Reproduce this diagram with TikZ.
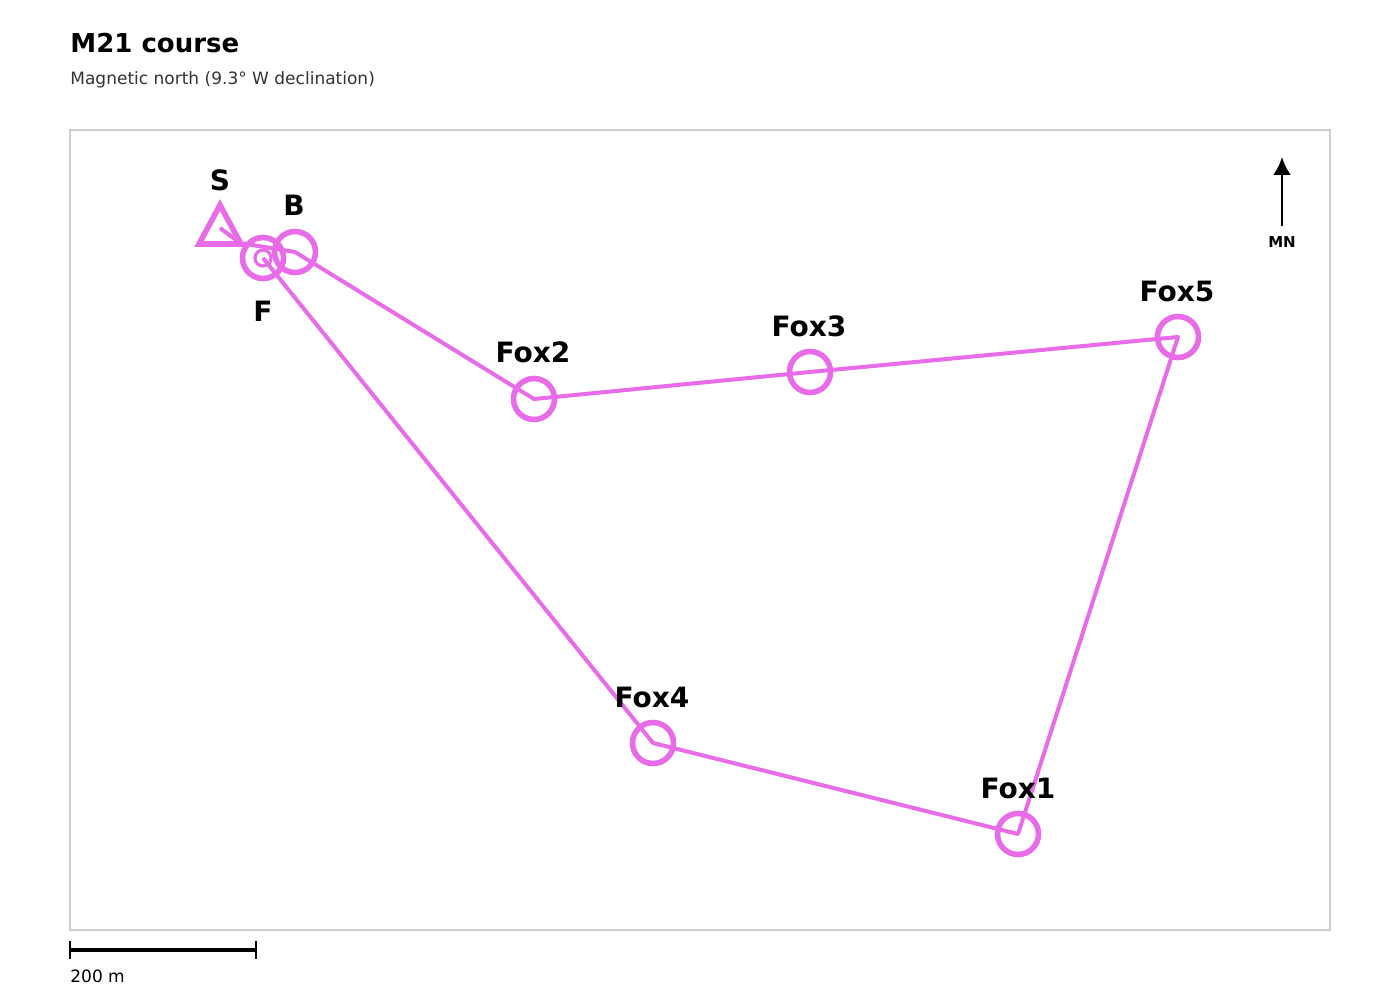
\documentclass[tikz,border=0pt]{standalone}
\usepackage{fontspec}
\setmainfont{DejaVu Sans}
\usetikzlibrary{arrows.meta}
\definecolor{course}{HTML}{E86BE8}
\definecolor{frame}{HTML}{CCCCCC}
\definecolor{subtext}{HTML}{333333}
\tikzset{
  control/.style={circle, draw=course, line width=2.8pt, minimum size=20.5pt, inner sep=0pt},
  leg/.style={draw=course, line width=2pt, line join=round},
  lbl/.style={font=\bfseries\fontsize{14}{17}\selectfont}
}
\begin{document}
\begin{tikzpicture}[x=0.5pt,y=-0.5pt]
\useasboundingbox (0,0) rectangle (1400,1000);
% header
\node[anchor=base west, inner sep=0pt, font=\bfseries\fontsize{13}{16}\selectfont] (title) at (70,53) {M21 course};
\node[anchor=base west, inner sep=0pt, text=subtext, font=\fontsize{8.5}{10}\selectfont] (sub) at (70,85) {Magnetic north (9.3° W declination)};
% map frame
\draw[frame, line width=1pt] (70,130) rectangle (1330,930);
% controls
\node[control] (F) at (263,258) {};
\node[control] (B) at (295,252) {};
\node[control] (fox2) at (534,399) {};
\node[control] (fox3) at (810,372) {};
\node[control] (fox5) at (1178,337) {};
\node[control] (fox1) at (1018,834) {};
\node[control] (fox4) at (653,743) {};
\node[circle, draw=course, line width=1.6pt, minimum size=8pt, inner sep=0pt] (Fin) at (263,258) {};
\coordinate (S) at (220,228);
\draw[course, line width=2.8pt, line join=miter] (220,205) -- (241,244) -- (199,244) -- cycle;
% course legs
\draw[leg] (S) -- (240,243) -- (B.center) -- (fox2.center) -- (fox3.center) -- (fox5.center)
  -- (fox1.center) -- (fox4.center) -- (F.center);
% labels
\node[lbl] (lS) at (220,180) {S};
\node[lbl] (lB) at (294,205) {B};
\node[lbl] (lF) at (263,311) {F};
\node[lbl] (l2) at (533,352) {Fox2};
\node[lbl] (l3) at (809,326) {Fox3};
\node[lbl] (l5) at (1177,291) {Fox5};
\node[lbl] (l1) at (1018,788) {Fox1};
\node[lbl] (l4) at (652,697) {Fox4};
% north arrow
\coordinate (mnfoot) at (1282,226);
\coordinate (mntip) at (1282,157);
\draw[line width=1.4pt, -{Latex[length=9pt,width=9pt]}] (mnfoot) -- (mntip);
\node[font=\bfseries\fontsize{7.5}{9}\selectfont] (mn) at (1282,242) {MN};
% scale bar
\draw[line width=1.6pt] (70,950) -- (256,950);
\draw[line width=1pt] (70,941) -- (70,959) (256,941) -- (256,959);
\node[anchor=base west, inner sep=0pt, font=\fontsize{8.5}{10}\selectfont] (scale) at (70,982) {200 m};
\end{tikzpicture}
\end{document}
